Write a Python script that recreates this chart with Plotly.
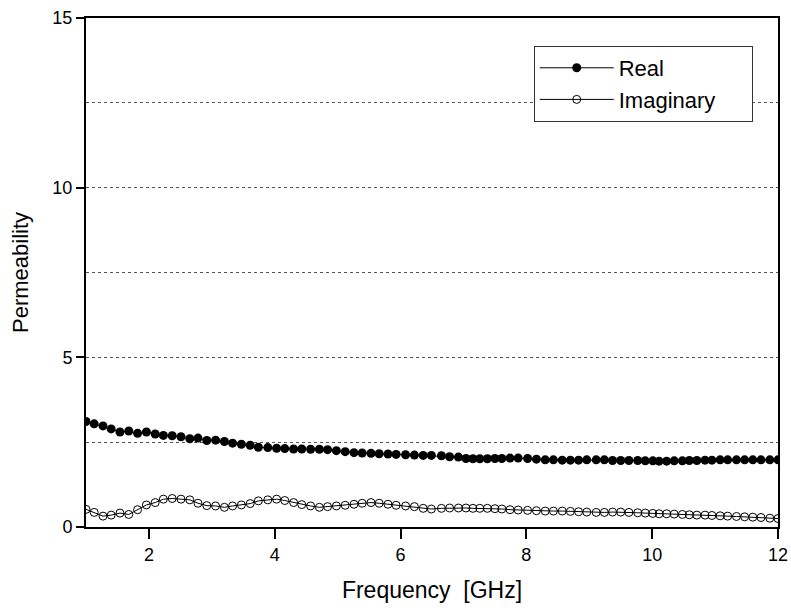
import plotly.graph_objects as go

freq = [1.00, 1.13, 1.27, 1.40, 1.54, 1.68, 1.82, 1.96, 2.10, 2.23, 2.37, 2.51, 2.65, 2.78, 2.92, 3.06, 3.20, 3.33, 3.47, 3.61, 3.74,
        3.89, 4.03, 4.16, 4.30, 4.43, 4.57, 4.71, 4.84, 4.98, 5.12, 5.26, 5.39, 5.53, 5.66, 5.80, 5.93, 6.08, 6.22, 6.36, 6.49,
        6.65, 6.78, 6.92, 7.04, 7.15, 7.26, 7.38, 7.50, 7.61, 7.74, 7.87, 8.02, 8.16, 8.30, 8.43, 8.57, 8.70, 8.83, 8.96, 9.11, 9.24,
        9.37, 9.50, 9.63, 9.77, 9.89, 10.01, 10.11, 10.23, 10.35, 10.48, 10.59, 10.71, 10.84, 10.95, 11.08, 11.20, 11.34, 11.47, 11.60, 11.73, 11.87, 12.00]

real = [3.11, 3.04, 2.98, 2.89, 2.80, 2.83, 2.76, 2.80, 2.74, 2.70, 2.69, 2.66, 2.60, 2.62, 2.55, 2.56, 2.52, 2.47, 2.44, 2.41, 2.35,
        2.34, 2.32, 2.31, 2.30, 2.30, 2.29, 2.29, 2.28, 2.25, 2.22, 2.19, 2.18, 2.17, 2.16, 2.15, 2.14, 2.13, 2.12, 2.11, 2.11,
        2.10, 2.07, 2.06, 2.02, 2.01, 2.01, 2.01, 2.02, 2.02, 2.03, 2.03, 2.02, 2.00, 1.98, 1.98, 1.97, 1.97, 1.97, 1.98, 1.98, 1.98,
        1.96, 1.96, 1.96, 1.96, 1.95, 1.95, 1.94, 1.94, 1.95, 1.95, 1.96, 1.96, 1.97, 1.97, 1.98, 1.98, 1.98, 1.98, 1.98, 1.98, 1.98, 1.98]

imag = [0.52, 0.43, 0.32, 0.35, 0.41, 0.37, 0.51, 0.65, 0.72, 0.82, 0.84, 0.82, 0.80, 0.70, 0.63, 0.62, 0.58, 0.62, 0.65, 0.69, 0.77,
        0.80, 0.82, 0.78, 0.72, 0.66, 0.62, 0.58, 0.60, 0.62, 0.64, 0.67, 0.70, 0.72, 0.70, 0.67, 0.64, 0.62, 0.60, 0.55, 0.53,
        0.55, 0.56, 0.56, 0.56, 0.55, 0.55, 0.55, 0.54, 0.53, 0.51, 0.50, 0.49, 0.48, 0.47, 0.47, 0.47, 0.46, 0.45, 0.44, 0.43, 0.43,
        0.44, 0.44, 0.43, 0.42, 0.41, 0.40, 0.39, 0.39, 0.38, 0.37, 0.36, 0.35, 0.35, 0.34, 0.33, 0.32, 0.31, 0.30, 0.29, 0.28, 0.26, 0.25]

series_names = ["Real", "Imaginary"]
x_major = [2, 4, 6, 8, 10, 12]
x_minor = [1, 3, 5, 7, 9, 11]
y_major = [0, 5, 10, 15]
y_minor = [2.5, 7.5, 12.5]

X_RANGE = [1, 12]
Y_RANGE = [0, 15]
PLOT_W, PLOT_H = 692, 509  # plot-area size in px (791-86-13, 612-18-85)

FONT = "Liberation Sans, Arial, sans-serif"

fig = go.Figure()
fig.add_trace(go.Scatter(
    x=freq, y=real, name=series_names[0] + "\u00a0" * 6, mode="lines+markers",
    line=dict(color="black", width=1),
    marker=dict(symbol="circle", size=9, color="black", line=dict(color="black", width=0)),
))
fig.add_trace(go.Scatter(
    x=freq, y=imag, name=series_names[1] + "\u00a0" * 5, mode="lines+markers",
    line=dict(color="black", width=1),
    marker=dict(symbol="circle-open", size=8, color="black", line=dict(color="black", width=1)),
))

# outside tick marks drawn as unclipped line markers just outside the axes
y_per_px = (Y_RANGE[1] - Y_RANGE[0]) / PLOT_H
x_per_px = (X_RANGE[1] - X_RANGE[0]) / PLOT_W


def xticks(vals, length):
    fig.add_trace(go.Scatter(
        x=vals, y=[Y_RANGE[0] - y_per_px * length / 2] * len(vals), mode="markers",
        marker=dict(symbol="line-ns-open", size=length, color="black", line=dict(color="black", width=2)),
        cliponaxis=False, showlegend=False, hoverinfo="skip"))


def yticks(vals, length, width):
    fig.add_trace(go.Scatter(
        x=[X_RANGE[0] - x_per_px * length / 2] * len(vals), y=vals, mode="markers",
        marker=dict(symbol="line-ew-open", size=length, color="black", line=dict(color="black", width=width)),
        cliponaxis=False, showlegend=False, hoverinfo="skip"))


xticks(x_major, 10)
xticks(x_minor, 5)
yticks(y_major, 8, 2)
yticks(y_minor, 5, 1)

fig.update_layout(
    template="none",
    width=791, height=612,
    margin=dict(l=86, r=13, t=18, b=85),
    paper_bgcolor="white", plot_bgcolor="white",
    font=dict(family=FONT, color="black", size=18),
    showlegend=True,
    legend=dict(
        x=0.647, y=0.945, xanchor="left", yanchor="top",
        bgcolor="white", bordercolor="#333", borderwidth=1,
        font=dict(family=FONT, size=22, color="black"),
        itemwidth=74, tracegroupgap=0,
    ),
    xaxis=dict(
        range=X_RANGE, tickmode="array", tickvals=x_major, ticktext=[str(v) for v in x_major],
        ticks="outside", ticklen=10, tickwidth=2, tickcolor="#000000",
        showline=True, linecolor="black", linewidth=2, mirror=True,
        showgrid=False, zeroline=False, automargin=False,
        tickfont=dict(size=18, family=FONT, color="black"),
        title=dict(text="Frequency\u00a0 [GHz]", font=dict(size=23, family=FONT, color="black"), standoff=18),
    ),
    yaxis=dict(
        range=Y_RANGE, tickmode="array", tickvals=y_major, ticktext=[str(v) for v in y_major],
        ticks="outside", ticklen=8, tickwidth=2, tickcolor="#000000",
        minor=dict(tickmode="array", tickvals=y_minor, showgrid=True,
                   gridcolor="#555", gridwidth=1, griddash="3px,3px"),
        showline=True, linecolor="black", linewidth=2, mirror=True,
        showgrid=True, gridcolor="#555", gridwidth=1, griddash="3px,3px",
        zeroline=False, automargin=False,
        tickfont=dict(size=18, family=FONT, color="black"),
        title=dict(text="Permeability", font=dict(size=22, family=FONT, color="black"), standoff=18),
    ),
)

fig.write_html("out.html")
